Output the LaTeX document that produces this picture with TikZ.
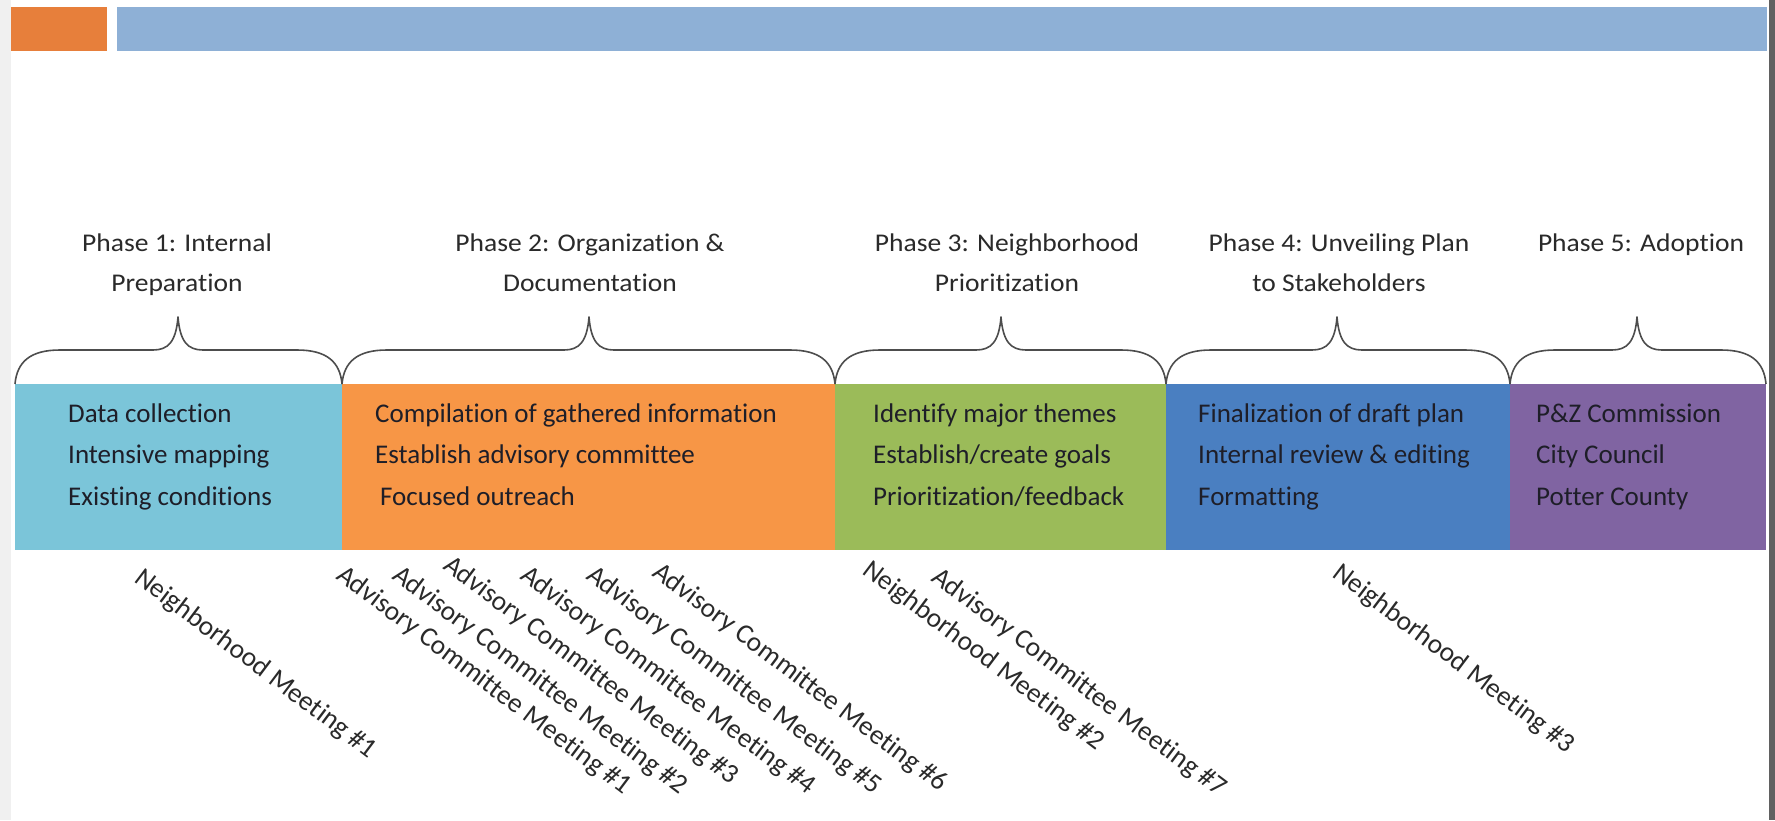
\documentclass[tikz,border=0pt]{standalone}
\usepackage{fontspec}
\setmainfont{Carlito}[Ligatures=NoCommon,RawFeature={-clig;-liga;-dlig}]
\newfontfamily\headfont{Carlito}[FakeStretch=1.08,Ligatures=NoCommon,RawFeature={-clig;-liga;-dlig}]
\definecolor{barOrange}{HTML}{E77F3B}
\definecolor{barBlue}{HTML}{8EB0D6}
\definecolor{phaseCyan}{HTML}{7BC5D9}
\definecolor{phaseOrange}{HTML}{F79646}
\definecolor{phaseGreen}{HTML}{9BBB59}
\definecolor{phaseBlue}{HTML}{4A7FC1}
\definecolor{phasePurple}{HTML}{8064A2}
\definecolor{inkDark}{HTML}{1E1E28}
\definecolor{inkGray}{HTML}{2A2A2A}
\definecolor{braceGray}{HTML}{4D4D4D}
% a stack of left-aligned lines whose baseline is the first line's baseline
\newcommand\leftlines[1]{\begin{tabular}[t]{@{}l@{}}#1\end{tabular}}
\newcommand\centerlines[1]{\begin{tabular}[t]{@{}c@{}}#1\end{tabular}}
% curly brace over a phase: left end, right end, tip (x values)
\newcommand\phasebrace[3]{%
  \draw[brace] (#1,384) .. controls (#1+2,362) and (#1+15,350) .. (#1+45,350)
    -- (#3-25,350) .. controls (#3-10,350) and (#3-2,342) .. (#3,317)
    .. controls (#3+2,342) and (#3+10,350) .. (#3+25,350)
    -- (#2-45,350) .. controls (#2-15,350) and (#2-2,362) .. (#2,384);}
\begin{document}
\begin{tikzpicture}[x=1pt,y=-1pt,
  phasebox/.style={anchor=north west, inner sep=0pt, minimum height=166pt, draw=none},
  boxtext/.style={anchor=base west, inner sep=0pt, text=inkDark,
    font=\fontsize{27}{41.5}\selectfont},
  headtext/.style={anchor=base, inner sep=0pt, text=inkGray,
    font=\headfont\fontsize{25.5}{40}\selectfont},
  meeting/.style={anchor=base west, inner sep=0pt, rotate=-37, text=inkGray,
    font=\fontsize{27.5}{30}\selectfont},
  brace/.style={draw=braceGray, line width=1.6pt, line join=round}]
% page
\fill[white] (0,0) rectangle (1775,820);
\useasboundingbox (0,0) rectangle (1775,820);
\fill[black!6] (0,0) rectangle (11,820);
\fill[black!62] (1769,0) rectangle (1775,820);
% header bars
\fill[barOrange] (11,7) rectangle (107,51);
\fill[barBlue] (117,7) rectangle (1767,51);

% phase boxes
\node[phasebox, fill=phaseCyan,   minimum width=327pt] (p1) at (15,384) {};
\node[phasebox, fill=phaseOrange, minimum width=493pt] (p2) at (342,384) {};
\node[phasebox, fill=phaseGreen,  minimum width=331pt] (p3) at (835,384) {};
\node[phasebox, fill=phaseBlue,   minimum width=344pt] (p4) at (1166,384) {};
\node[phasebox, fill=phasePurple, minimum width=256pt] (p5) at (1510,384) {};

% phase contents
\node[boxtext] (t1) at (68,422) {\leftlines{Data collection\\Intensive mapping\\Existing conditions}};
\node[boxtext] (t2) at (375,422) {\leftlines{Compilation of gathered information\\Establish advisory committee\\\hspace{5pt}Focused outreach}};
\node[boxtext] (t3) at (873,422) {\leftlines{Identify major themes\\Establish/create goals\\Prioritization/feedback}};
\node[boxtext] (t4) at (1198,422) {\leftlines{Finalization of draft plan\\Internal review \& editing\\Formatting}};
\node[boxtext] (t5) at (1536,422) {\leftlines{P\&Z Commission\\City Council\\Potter County}};

% braces
\phasebrace{15}{342}{178}
\phasebrace{342}{835}{589}
\phasebrace{835}{1166}{1001}
\phasebrace{1166}{1510}{1337}
\phasebrace{1510}{1766}{1637}

% phase headings
\node[headtext] (h1) at (177,251) {\centerlines{Phase 1: Internal\\Preparation}};
\node[headtext] (h2) at (590,251) {\centerlines{Phase 2: Organization \&\\Documentation}};
\node[headtext] (h3) at (1007,251) {\centerlines{Phase 3: Neighborhood\\Prioritization}};
\node[headtext] (h4) at (1339,251) {\centerlines{Phase 4: Unveiling Plan\\to Stakeholders}};
\node[headtext] (h5) at (1641,251) {Phase 5: Adoption};

% meetings
\node[meeting] (nm1) at (133,581) {Neighborhood Meeting \#1};
\node[meeting] (ac1) at (335,578) {Advisory Committee Meeting \#1};
\node[meeting] (ac2) at (391,578) {Advisory Committee Meeting \#2};
\node[meeting] (ac3) at (442,568) {Advisory Committee Meeting \#3};
\node[meeting] (ac4) at (519,578) {Advisory Committee Meeting \#4};
\node[meeting] (ac5) at (585,578) {Advisory Committee Meeting \#5};
\node[meeting] (ac6) at (651,575) {Advisory Committee Meeting \#6};
\node[meeting] (nm2) at (861,573) {Neighborhood Meeting \#2};
\node[meeting] (ac7) at (930,580) {Advisory Committee Meeting \#7};
\node[meeting] (nm3) at (1331,576) {Neighborhood Meeting \#3};
\end{tikzpicture}
\end{document}
